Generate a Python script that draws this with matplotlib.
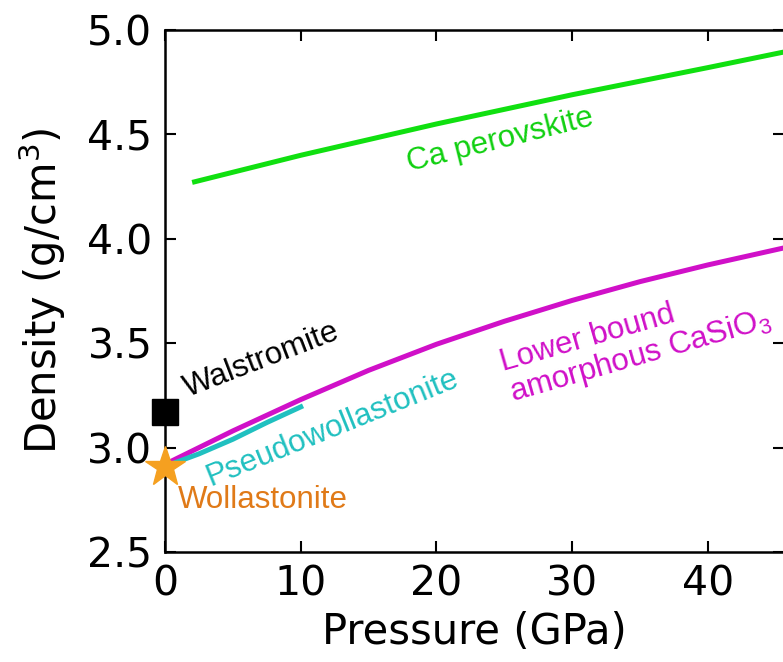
import matplotlib
matplotlib.use("Agg")
import matplotlib.pyplot as plt

plt.rcParams['font.family'] = ['DejaVu Sans']
plt.rcParams['mathtext.default'] = 'regular'

# Ca perovskite
perov_p = [2, 10, 20, 30, 40, 46]
perov_d = [4.27, 4.40, 4.55, 4.69, 4.82, 4.90]

# lower bound amorphous CaSiO3
amorph_p = [0, 5, 10, 15, 20, 25, 30, 35, 40, 45.5]
amorph_d = [2.92, 3.08, 3.23, 3.37, 3.495, 3.605, 3.705, 3.795, 3.875, 3.955]

# pseudowollastonite
pseudo_p = [0, 2.5, 5, 7.5, 10]
pseudo_d = [2.91, 2.97, 3.04, 3.12, 3.195]

walstromite = (0, 3.17)
wollastonite = (0, 2.905)

fig = plt.figure(figsize=(7.83, 6.62), dpi=100)
ax = fig.add_axes([165 / 783, 1 - 552 / 662, (784 - 165) / 783, (552 - 30) / 662])

ax.plot(perov_p, perov_d, color='#10e010', lw=3.6, solid_capstyle='butt')
ax.plot(amorph_p, amorph_d, color='#d010c8', lw=3.6)
ax.plot(pseudo_p, pseudo_d, color='#20c0c0', lw=3.6)
ax.plot(*walstromite, marker='s', ms=19, color='black', clip_on=False, zorder=5)
ax.plot(*wollastonite, marker='*', ms=30, color='#f5a020', mec='#f5a020',
        clip_on=False, zorder=5)

lab = dict(family=['Liberation Sans', 'DejaVu Sans'], fontsize=22.5,
           ha='center', va='center')
# label positions in pixels from top-left of the figure
labels = [
    (500, 140, 'Ca perovskite', '#10d010', 14),
    (262, 360, 'Walstromite', 'black', 21),
    (332, 428, 'Pseudowollastonite', '#20c0c0', 22),
    (263, 500, 'Wollastonite', '#e07a18', 0),
    (636, 342, 'Lower bound\namorphous CaSiO$_3$', '#d010c8', 16),
]
for x, y, s, c, r in labels:
    ax.text(x / 783, 1 - y / 662, s, color=c, rotation=r, linespacing=1.0,
            multialignment='left', transform=fig.transFigure,
            rotation_mode='anchor', **lab)

ax.set_xlim(0, 45.6)
ax.set_ylim(2.5, 5.0)
ax.set_xticks([0, 10, 20, 30, 40])
ax.set_yticks([2.5, 3.0, 3.5, 4.0, 4.5, 5.0])
ax.set_yticklabels(['2.5', '3.0', '3.5', '4.0', '4.5', '5.0'])
ax.tick_params(direction='in', length=8, width=1.5, labelsize=29.5, pad=9,
               top=True, right=True)
for s in ax.spines.values():
    s.set_linewidth(1.8)
ax.set_xlabel('Pressure (GPa)', fontsize=30, labelpad=5)
ax.set_ylabel('Density (g/cm$^3$)', fontsize=30, labelpad=14)

fig.savefig('out.png', dpi=100)
